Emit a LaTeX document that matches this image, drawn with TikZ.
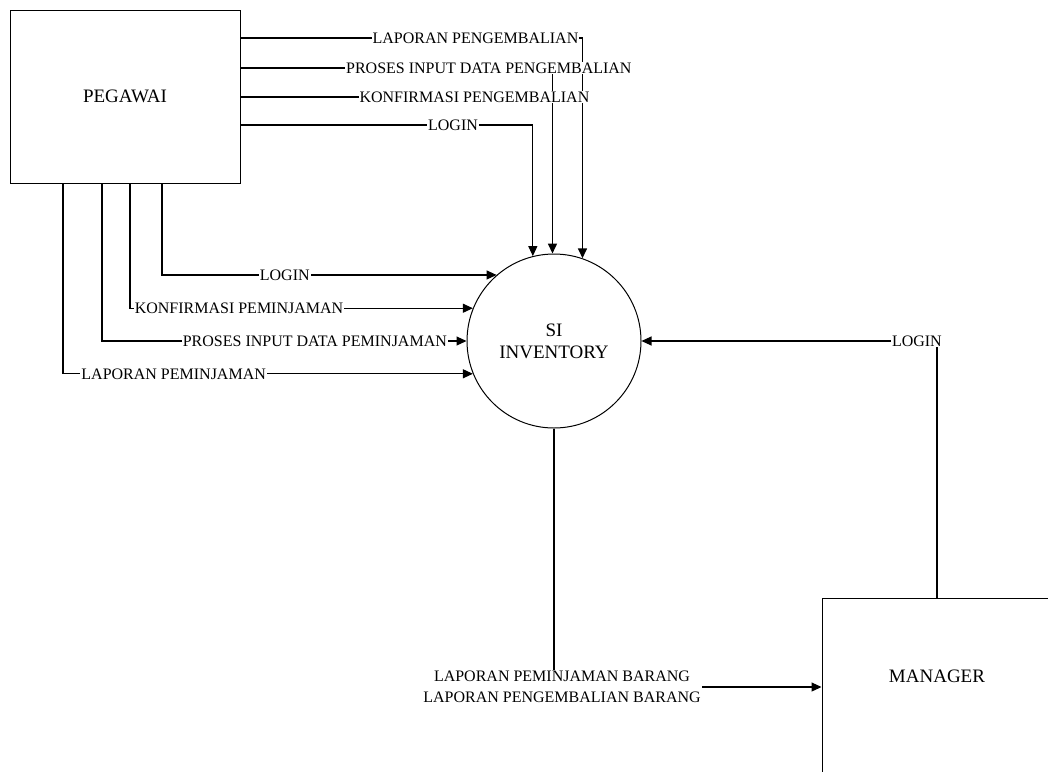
\documentclass[tikz,border=0pt]{standalone}
\usepackage{fontspec}
\setmainfont{Liberation Serif}
\usetikzlibrary{arrows.meta}
\begin{document}
\begin{tikzpicture}[x=1pt,y=-1pt,
  conn/.style={line width=1.1pt, draw=black},
  arr/.style={conn, -{Triangle[length=10pt,width=9pt]}},
  lbl/.style={fill=white, inner sep=1pt, font=\fontsize{16}{21}\selectfont, text=black},
  big/.style={font=\fontsize{19}{22}\selectfont, align=center}]
\useasboundingbox (0,0) rectangle (1048,771);
\fill[white] (0,0) rectangle (1048,771);
% entities and process
\node[draw, line width=1pt, minimum width=230pt, minimum height=173pt, inner sep=0pt, big] (peg) at (125,96.5) {PEGAWAI};
\node[draw, circle, line width=1pt, minimum size=174pt, inner sep=0pt, big] (si) at (554,341) {SI\\INVENTORY};
\begin{scope}
  \clip (0,0) rectangle (1048,771);
  \node[draw, line width=1pt, minimum width=276pt, minimum height=220pt, inner sep=0pt] (mgr) at (960,708) {};
\end{scope}
\node[big] (mgrtext) at (937,676) {MANAGER};
% top flows
\draw[arr, line width=1.6pt] (peg.east |- 0,38) -- node[lbl, pos=0.687] {LAPORAN PENGEMBALIAN} (si.71 |- 0,38) -- (si.71);
\draw[arr, line width=1.6pt] (peg.east |- 0,68) -- node[lbl, pos=0.796] {PROSES INPUT DATA PENGEMBALIAN} (si.91 |- 0,68) -- (si.91);
\draw[conn] (peg.east |- 0,97) -- node[lbl, pos=0.75] {KONFIRMASI PENGEMBALIAN} (si.91 |- 0,97);
\draw[arr] (peg.east |- 0,125) -- node[lbl, pos=0.727] {LOGIN} (si.104 |- 0,125) -- (si.104);
% left flows
\draw[arr] (peg.south -| 162,0) -- (si.131 -| 162,0) -- node[lbl, pos=0.367] {LOGIN} (si.131);
\draw[arr] (peg.south -| 130,0) -- (si.158 -| 130,0) -- node[lbl, pos=0.318] {KONFIRMASI PEMINJAMAN} (si.158);
\draw[arr] (peg.south -| 102,0) -- (si.180 -| 102,0) -- node[lbl, pos=0.584] {PROSES INPUT DATA PEMINJAMAN} (si.180);
\draw[arr] (peg.south -| 63,0) -- (si.202 -| 63,0) -- node[lbl, pos=0.27] {LAPORAN PEMINJAMAN} (si.202);
% manager flows
\draw[arr] (mgr.north west -| 937,0) -- (937,0 |- si.east) -- node[lbl, pos=0.068] {LOGIN} (si.east);
\draw[arr] (si.south) -- (si.south |- 0,687) -- node[lbl, align=center, pos=0.03] {LAPORAN PEMINJAMAN BARANG\\LAPORAN PENGEMBALIAN BARANG} (mgr.west |- 0,687);
\end{tikzpicture}
\end{document}
